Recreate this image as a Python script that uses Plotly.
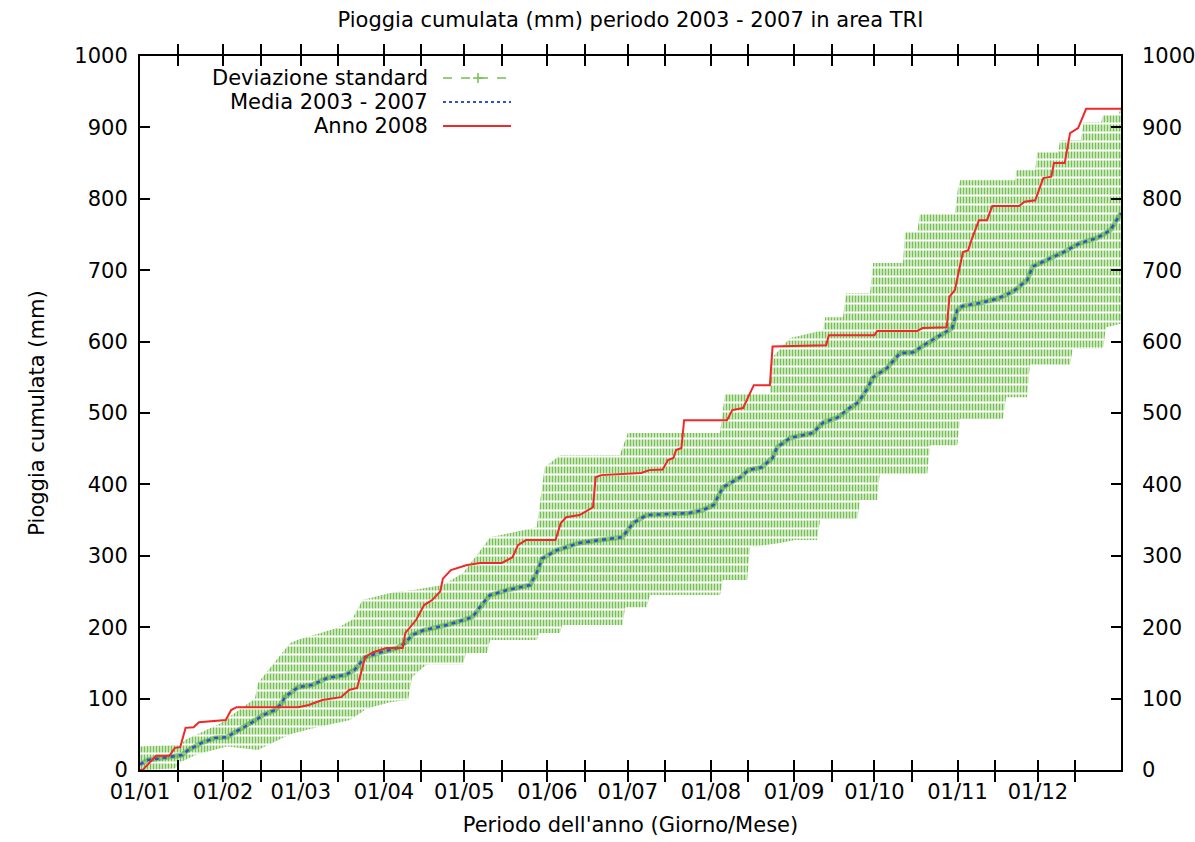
import plotly.graph_objects as go

# ---------------- data (day of year, 0 = 01/01) ----------------
month_start_days = [0, 31, 60, 91, 121, 152, 182, 213, 244, 274, 305, 335]
month_labels = ["01/01", "01/02", "01/03", "01/04", "01/05", "01/06",
                "01/07", "01/08", "01/09", "01/10", "01/11", "01/12"]
mid_month_days = [14, 45, 74, 105, 135, 166, 196, 227, 258, 288, 319, 349]

# Anno 2008 - cumulative rain (mm)
anno2008_days = [0, 1, 6, 11, 13, 15, 17, 20, 22, 32, 34, 36, 59, 63, 68, 75, 78, 81,
                 84, 87, 92, 98, 99, 103, 106, 109, 112, 113, 116, 119, 122, 127, 135,
                 139, 141, 144, 155, 157, 159, 164, 167, 169, 170, 172, 187, 190, 195,
                 197, 199, 200, 202, 203, 219, 221, 225, 226, 229, 235, 236, 256, 257,
                 274, 275, 290, 292, 301, 302, 304, 307, 309, 310, 313, 316, 318, 328,
                 330, 334, 337, 340, 341, 345, 347, 350, 353, 366]
anno2008_mm = [0, 0, 20, 20, 31, 32, 59, 60, 67, 70, 84, 88, 88, 91, 98, 102, 112, 115,
               158, 165, 171, 171, 192, 210, 231, 238, 250, 268, 280, 284, 287, 290, 290,
               298, 315, 322, 322, 346, 354, 357, 364, 368, 410, 413, 416, 420, 421,
               434, 437, 448, 451, 490, 490, 504, 507, 515, 539, 539, 593, 595, 609,
               609, 615, 615, 619, 620, 663, 672, 725, 728, 740, 770, 770, 790, 790,
               796, 798, 829, 831, 850, 850, 892, 899, 926, 926]

# Media 2003 - 2007 - cumulative rain (mm)
media_days = [0, 3, 15.7, 18, 23, 28, 32.5, 35.4, 40.3, 46, 50.4, 53, 54, 59, 64, 70,
              76.5, 80, 84, 89, 96, 99, 101.5, 106, 114.5, 124, 128, 130.6, 137, 145.5,
              148, 150, 155.6, 164, 171.6, 180, 184, 189, 205, 210, 214, 216.4, 217.5,
              224, 227, 232, 236, 237.7, 242.5, 251, 255, 260, 265, 268, 271, 273.5,
              278.7, 283.6, 288.4, 293.7, 299.6, 303, 304.9, 307, 313.4, 319.8, 325.7,
              331, 333, 338.4, 344.4, 350.7, 357, 362, 366]
media_mm = [8, 14, 21, 28, 38, 45, 46, 53, 63, 77, 84, 94, 102, 116, 119, 129,
            133, 140, 158, 164, 171, 178, 189, 196, 203, 214, 234, 245, 252, 259,
            276, 296, 308, 318, 322, 326, 346, 357, 360, 364, 371, 388, 396,
            410, 420, 424, 437, 452, 465, 472, 487, 493, 508, 515, 532, 550,
            563, 584, 585, 598, 612, 619, 644, 650, 654, 660, 670,
            686, 705, 714, 725, 738, 745, 756, 780]

# Deviazione standard - upper edge (media + dev) and lower edge (media - dev)
dev_sup_days = [0, 15, 16.8, 22.4, 29.9, 37.3, 42.9, 44, 56, 58.6, 73.5, 79, 83, 93.3,
                101.9, 113, 120.5, 129.5, 130.6, 148, 151, 156.7, 179, 182, 216.4, 218.3,
                235, 236, 242.5, 254.9, 255.6, 262.3, 263.4, 272.4, 273.5, 284.7, 285.4,
                290, 291, 304, 305.2, 306, 326.5, 327, 334, 334.7, 342.5, 343.3, 351,
                352, 358.6, 359.3, 365, 366]
dev_sup_mm = [33, 35, 42, 52, 65, 85, 100, 122, 178, 182, 199, 210, 238, 248,
              252, 259, 276, 320, 326, 340, 424, 441, 441, 472, 472, 528,
              528, 578, 605, 616, 634, 634, 668, 668, 710, 710, 753,
              753, 780, 780, 815, 826, 826, 840, 840, 865, 865, 882, 882,
              907, 907, 917, 917, 928]
dev_inf_days = [0, 13, 15.7, 21.3, 32.5, 44, 56, 66, 78.4, 84.7, 93.3, 100, 101.5, 107,
                120.5, 121.6, 129.5, 130.6, 148, 149, 156.7, 157.5, 180, 181, 189, 190.3,
                216.4, 217.5, 226.5, 227.6, 238.8, 244.4, 252.6, 253.7, 267.5, 268.7,
                275, 276, 293.7, 294.8, 304.9, 306, 322, 323.1, 331, 332, 347, 348,
                359.3, 360.4, 366]
dev_inf_mm = [0, 2, 12, 22, 33, 28, 50, 60, 70, 86, 95, 98, 130, 148,
              148, 164, 164, 182, 182, 192, 192, 203, 203, 228, 228, 245,
              245, 266, 266, 312, 318, 322, 322, 350, 350, 378,
              378, 415, 415, 455, 455, 492, 492, 522, 522, 568, 568, 590,
              590, 620, 625]

# ---------------- styling ----------------
FONT = "DejaVu Sans"
FS = 21
GREEN = "#74c050"
BLUE = "#3050d0"
RED = "#f02828"

band_x = dev_sup_days + dev_inf_days[::-1]
band_y = dev_sup_mm + dev_inf_mm[::-1]

fig = go.Figure()

# std band: vertical green stripes (daily dashed error bars)
fig.add_trace(go.Scatter(
    x=band_x, y=band_y, mode="lines", fill="toself",
    line=dict(width=0, color="rgba(0,0,0,0)"),
    fillcolor="rgba(0,0,0,0)",
    fillpattern=dict(shape="|", size=3, solidity=0.6, fgcolor=GREEN,
                     bgcolor="#ffffff", fillmode="replace"),
    hoverinfo="skip", showlegend=False))
# std band: white gaps between dashes
fig.add_trace(go.Scatter(
    x=band_x, y=band_y, mode="lines", fill="toself",
    line=dict(width=0, color="rgba(0,0,0,0)"),
    fillcolor="rgba(0,0,0,0)",
    fillpattern=dict(shape="-", size=9, solidity=0.22, fgcolor="#ffffff",
                     bgcolor="rgba(0,0,0,0)", fillmode="replace"),
    hoverinfo="skip", showlegend=False))

# mean: green halo (std line with + points) and blue dotted line
fig.add_trace(go.Scatter(
    x=media_days, y=media_mm, mode="lines",
    line=dict(color="rgba(80,170,60,0.6)", width=5),
    hoverinfo="skip", showlegend=False))
fig.add_trace(go.Scatter(
    x=media_days, y=media_mm, mode="lines",
    line=dict(color=BLUE, width=2.5, dash="4px,4px"),
    name="Media 2003 - 2007", showlegend=False))

# 2008
fig.add_trace(go.Scatter(
    x=anno2008_days, y=anno2008_mm, mode="lines", yaxis="y2",
    line=dict(color=RED, width=2),
    name="Anno 2008", showlegend=False))

# ---------------- manual gnuplot-style key ----------------
L, R, T, B = 140, 1121, 56, 770
def px(xp):
    return (xp - L) / (R - L)
def py(yp):
    return (B - yp) / (B - T)

key_labels = ["Deviazione standard", "Media 2003 - 2007", "Anno 2008"]
key_y = [78, 102, 126]
key_styles = [dict(color=GREEN, width=1.5, dash="dash"),
              dict(color=BLUE, width=2, dash="dot"),
              dict(color=RED, width=2)]
shapes = []
annotations = []
for lab, yy, st in zip(key_labels, key_y, key_styles):
    annotations.append(dict(text=lab, x=px(430), y=py(yy), xref="paper", yref="paper",
                            xanchor="right", yanchor="middle", showarrow=False,
                            font=dict(family=FONT, size=FS, color="#000000")))
    shapes.append(dict(type="line", xref="paper", yref="paper",
                       x0=px(443), x1=px(511), y0=py(yy), y1=py(yy), line=st))
# '+' point symbol in first key sample
shapes.append(dict(type="line", xref="paper", yref="paper",
                   x0=px(473), x1=px(483), y0=py(78), y1=py(78),
                   line=dict(color=GREEN, width=1.5)))
shapes.append(dict(type="line", xref="paper", yref="paper",
                   x0=px(478), x1=px(478), y0=py(73), y1=py(83),
                   line=dict(color=GREEN, width=1.5)))

axis_common = dict(showline=True, linecolor="#000000", linewidth=2,
                   ticks="inside", ticklen=10, tickwidth=2, tickcolor="#000000",
                   showgrid=False, zeroline=False, automargin=False,
                   tickfont=dict(family=FONT, size=FS, color="#000000"))

fig.update_layout(
    width=1195, height=842,
    margin=dict(l=L, r=1195 - R, t=T, b=842 - B, pad=0, autoexpand=False),
    paper_bgcolor="#ffffff", plot_bgcolor="#ffffff",
    title=dict(text="Pioggia cumulata (mm) periodo 2003 - 2007 in area TRI",
               x=0.5, xref="paper", xanchor="center",
               y=1 - 20 / 842, yref="container", yanchor="middle",
               font=dict(family=FONT, size=FS, color="#000000")),
    xaxis=dict(range=[0, 366],
               tickmode="array",
               tickvals=month_start_days + mid_month_days,
               ticktext=month_labels + [""] * len(mid_month_days),
               mirror="allticks",
               title=dict(text="Periodo dell'anno (Giorno/Mese)", standoff=14,
                          font=dict(family=FONT, size=FS, color="#000000")),
               ticklabelstandoff=2,
               **axis_common),
    yaxis=dict(range=[0, 1000], dtick=100, tick0=0, mirror="allticks",
               title=dict(text="Pioggia cumulata (mm)", standoff=24,
                          font=dict(family=FONT, size=FS, color="#000000")),
               ticklabelstandoff=6,
               **axis_common),
    yaxis2=dict(range=[0, 1000], dtick=100, tick0=0, overlaying="y", side="right",
                showline=False, ticks="", showgrid=False, zeroline=False,
                automargin=False, ticklabelstandoff=20,
                tickfont=dict(family=FONT, size=FS, color="#000000")),
    shapes=shapes,
    annotations=annotations,
    showlegend=False,
)

fig.write_html("out.html")
